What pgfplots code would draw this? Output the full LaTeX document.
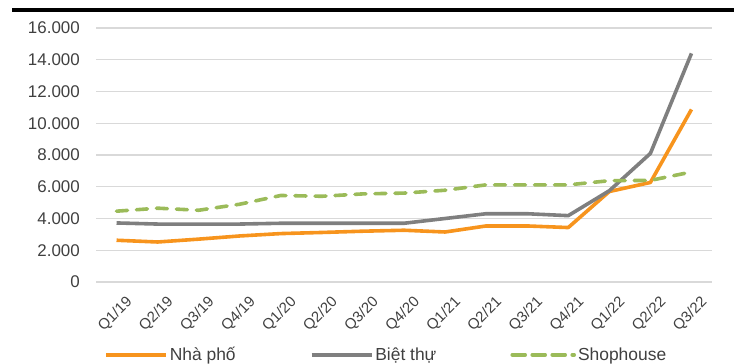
\documentclass[border=0pt]{standalone}
\usepackage{pgfplots}
\pgfplotsset{compat=1.18}
\usepackage{fontspec}
\setmainfont{Liberation Sans}

\definecolor{txt}{HTML}{404040}
\definecolor{gridc}{HTML}{D9D9D9}
\definecolor{nhapho}{HTML}{F7941D}
\definecolor{bietthu}{HTML}{7F7F7F}
\definecolor{shop}{HTML}{9BBB59}

\pgfplotsset{
  legsolid/.style={legend image code/.code={\draw[##1] (0bp,0bp) -- (60bp,0bp);}},
  legdash/.style={legend image code/.code={\draw[##1] (2bp,0bp) -- (53bp,0bp);
    \path (0bp,0bp) -- (62bp,0bp);}},
}

\begin{document}
\begin{tikzpicture}
\useasboundingbox (0,0) rectangle (734bp,364bp);
% heavy rule under the heading
\fill[black] (12bp,352bp) rectangle (734bp,356bp);
\begin{axis}[
  at={(96bp,82bp)}, anchor=south west,
  scale only axis, width=616bp, height=254bp,
  xmin=-0.5, xmax=14.5, ymin=0, ymax=16000,
  ytick={0,2000,...,16000},
  xtick={0,...,14},
  xticklabels={Q1/19,Q2/19,Q3/19,Q4/19,Q1/20,Q2/20,Q3/20,Q4/20,Q1/21,Q2/21,Q3/21,Q4/21,Q1/22,Q2/22,Q3/22},
  axis line style={draw=none},
  tick style={draw=none},
  ymajorgrids, grid style={gridc, line width=1.3bp},
  /pgf/number format/.cd, 1000 sep={.}, assume math mode=true,
  /pgfplots/.cd,
  scaled y ticks=false,
  yticklabel style={font=\fontsize{17}{19}\selectfont, text=txt, anchor=east, inner sep=0pt, xshift=-16bp},
  xticklabel style={font=\fontsize{15}{17}\selectfont, text=txt, rotate=45, anchor=north east, inner sep=0pt, xshift=-3bp, yshift=-15bp},
  legend columns=3,
  legend style={draw=none, fill=none, at={(0.013,-0.287)}, anchor=west, inner sep=0pt,
    font=\fontsize{17.5}{19}\selectfont, text=txt,
    nodes={inner sep=2bp},
    /tikz/every even column/.append style={column sep=72bp}},
  legend cell align=left,
]
\addplot[nhapho, line width=3.6bp, line join=round, legsolid]
  coordinates {(0,2630) (1,2520) (2,2700) (3,2900) (4,3050) (5,3120) (6,3200) (7,3260)
    (8,3150) (9,3530) (10,3530) (11,3430) (12,5700) (13,6270) (14,10870)};
\addlegendentry{Nhà phố}
\addplot[bietthu, line width=3.6bp, line join=round, legsolid]
  coordinates {(0,3720) (1,3650) (2,3650) (3,3650) (4,3700) (5,3700) (6,3700) (7,3700)
    (8,4000) (9,4300) (10,4300) (11,4180) (12,5750) (13,8100) (14,14400)};
\addlegendentry{Biệt thự}
\addplot[shop, line width=3.6bp, line cap=round, line join=round, dash pattern=on 11bp off 9bp, legdash]
  coordinates {(0,4460) (1,4650) (2,4520) (3,4900) (4,5450) (5,5400) (6,5550) (7,5600)
    (8,5780) (9,6120) (10,6120) (11,6120) (12,6380) (13,6400) (14,6930)};
\addlegendentry{Shophouse}
\end{axis}
\end{tikzpicture}
\end{document}
